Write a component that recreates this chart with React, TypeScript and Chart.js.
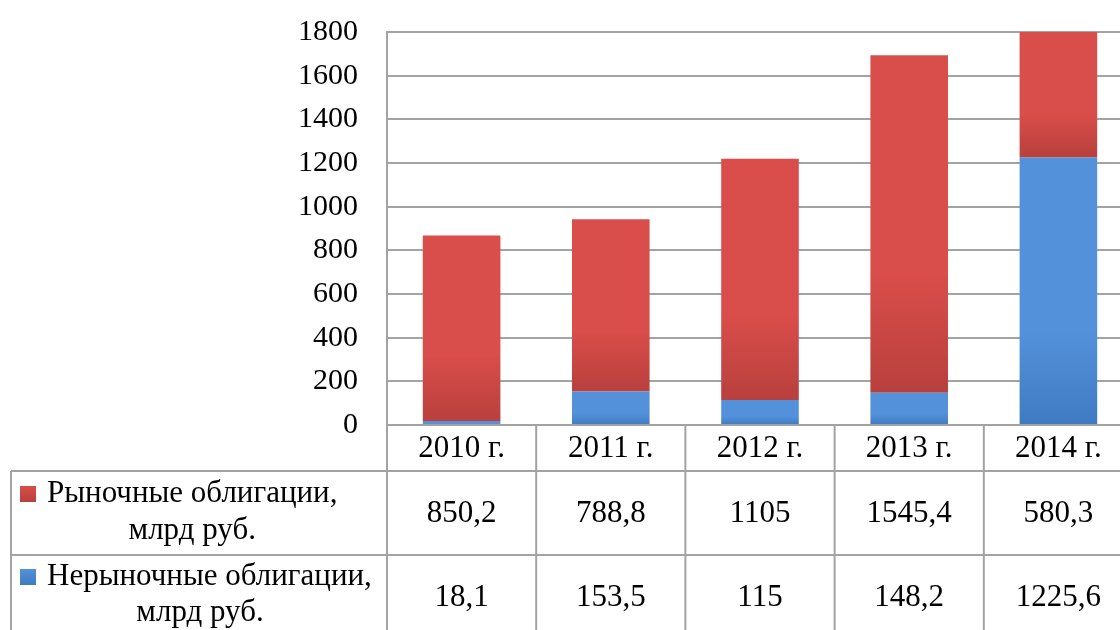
import React, { useEffect, useRef } from 'react';
import { Chart, registerables } from 'chart.js';

Chart.register(...registerables);

const categories = ['2010 г.', '2011 г.', '2012 г.', '2013 г.', '2014 г.'];
const marketBonds = [850.2, 788.8, 1105, 1545.4, 580.3];
const nonMarketBonds = [18.1, 153.5, 115, 148.2, 1225.6];
const marketLabel = ['Рыночные облигации,', 'млрд руб.'];
const nonMarketLabel = ['Нерыночные облигации,', 'млрд руб.'];
const yMin = 0;
const yMax = 1800;
const yStep = 200;

const FONT = "'Liberation Serif'";
const GRID = '#a3a3a3';
const RED_TOP = '#d94d4a';
const RED_BOT = '#b8403d';
const BLUE_TOP = '#5391da';
const BLUE_BOT = '#3f7bc2';

const fmt = (v: number) => String(v).replace('.', ',');

const tablePlugin = {
  id: 'dataTable',
  afterDraw(chart: any) {
    const { ctx, chartArea, scales } = chart;
    const x = scales.x;
    const colW = x.getPixelForValue(1) - x.getPixelForValue(0);
    const headerTop = chartArea.bottom;
    const headerBottom = x.bottom;
    const rowH = 84;
    const tableLeft = 11;
    const rows = [
      { label: marketLabel, values: marketBonds, top: RED_TOP, bot: RED_BOT, l1: 23, l2: 60 },
      { label: nonMarketLabel, values: nonMarketBonds, top: BLUE_TOP, bot: BLUE_BOT, l1: 22, l2: 58 },
    ];
    ctx.save();
    ctx.strokeStyle = GRID;
    ctx.lineWidth = 2;
    const bottomY = headerBottom + rowH * rows.length;
    for (let i = 0; i <= categories.length; i++) {
      const xx = x.getPixelForValue(0) - colW / 2 + i * colW;
      ctx.beginPath();
      ctx.moveTo(xx, headerTop);
      ctx.lineTo(xx, bottomY);
      ctx.stroke();
    }
    ctx.beginPath();
    ctx.moveTo(tableLeft, headerBottom);
    ctx.lineTo(tableLeft, bottomY);
    ctx.stroke();
    for (let r = 0; r <= rows.length; r++) {
      const yy = headerBottom + r * rowH;
      ctx.beginPath();
      ctx.moveTo(tableLeft, yy);
      ctx.lineTo(chartArea.right, yy);
      ctx.stroke();
    }
    ctx.fillStyle = '#000';
    ctx.font = `31px ${FONT}`;
    ctx.textBaseline = 'middle';
    rows.forEach((row, r) => {
      const top = headerBottom + r * rowH;
      const mid = top + rowH / 2;
      ctx.textAlign = 'center';
      ctx.fillStyle = '#000';
      row.values.forEach((v, i) => {
        ctx.fillText(fmt(v), x.getPixelForValue(i), mid + 1);
      });
      const l1y = top + row.l1;
      const l2y = top + row.l2;
      const w1 = ctx.measureText(row.label[0]).width;
      const markerSize = 16;
      const markerX = tableLeft + 9;
      const textX = tableLeft + 36;
      const g = ctx.createLinearGradient(0, l1y - markerSize / 2, 0, l1y + markerSize / 2);
      g.addColorStop(0, row.top);
      g.addColorStop(1, row.bot);
      ctx.fillStyle = g;
      ctx.fillRect(markerX, l1y - markerSize / 2, markerSize, markerSize);
      ctx.fillStyle = '#000';
      ctx.textAlign = 'left';
      ctx.fillText(row.label[0], textX, l1y);
      ctx.textAlign = 'center';
      ctx.fillText(row.label[1], Math.min(textX + w1 / 2, 200), l2y);
    });
    ctx.restore();
  },
};

function gradientFor(ctx: any, datasetIdx: number, topC: string, botC: string) {
  const chart = ctx.chart;
  if (!chart.chartArea || ctx.dataIndex === undefined) return topC;
  const y = chart.scales.y;
  const i = ctx.dataIndex;
  const base = datasetIdx === 0 ? 0 : nonMarketBonds[i];
  const val = datasetIdx === 0 ? nonMarketBonds[i] : marketBonds[i];
  const y0 = y.getPixelForValue(base);
  const y1 = y.getPixelForValue(base + val);
  if (!isFinite(y0) || !isFinite(y1) || y0 === y1) return topC;
  const g = chart.ctx.createLinearGradient(0, y1, 0, y0);
  g.addColorStop(0, topC);
  g.addColorStop(0.65, topC);
  g.addColorStop(1, botC);
  return g;
}

export default function App() {
  const ref = useRef<HTMLCanvasElement | null>(null);
  useEffect(() => {
    if (!ref.current) return;
    let alive = true;
    const chart = new Chart(ref.current, {
      type: 'bar',
      data: {
        labels: categories,
        datasets: [
          {
            label: nonMarketLabel.join(' '),
            data: nonMarketBonds,
            backgroundColor: (c: any) => gradientFor(c, 0, BLUE_TOP, BLUE_BOT),
            borderWidth: 0,
            barPercentage: 0.52,
            categoryPercentage: 1,
          },
          {
            label: marketLabel.join(' '),
            data: marketBonds,
            backgroundColor: (c: any) => gradientFor(c, 1, RED_TOP, RED_BOT),
            borderWidth: 0,
            barPercentage: 0.52,
            categoryPercentage: 1,
          },
        ],
      },
      options: {
        responsive: false,
        animation: false,
        layout: { padding: { top: 32, right: 7, bottom: 630 - 471, left: 0 } },
        plugins: {
          legend: { display: false },
          tooltip: { enabled: false },
          title: { display: false },
        },
        scales: {
          x: {
            stacked: true,
            offset: true,
            grid: { display: false, drawTicks: false },
            border: { display: false },
            ticks: {
              color: '#000',
              font: { family: FONT, size: 31 },
              padding: 5,
              maxRotation: 0,
              autoSkip: false,
            },
            afterFit: (s: any) => {
              s.height = 46;
              s.paddingLeft = 0;
              s.paddingRight = 0;
            },
          },
          y: {
            stacked: true,
            min: yMin,
            max: yMax,
            grid: { color: GRID, lineWidth: 2, drawTicks: false },
            border: { display: true, color: GRID, width: 2 },
            ticks: {
              stepSize: yStep,
              color: '#000',
              font: { family: FONT, size: 30 },
              padding: 29,
              callback: (v: any) => String(v),
            },
            afterFit: (s: any) => {
              s.width = 387;
              s.paddingTop = 0;
              s.paddingBottom = 0;
            },
          },
        },
      },
      plugins: [tablePlugin],
    });
    const fonts: any = (document as any).fonts;
    const redraw = () => {
      if (alive) chart.update('none');
    };
    if (fonts && fonts.load) {
      fonts
        .load("31px 'Liberation Serif'", 'Рыночные 0123456789 г.')
        .then(() => fonts.ready)
        .then(redraw, redraw);
    }
    return () => {
      alive = false;
      chart.destroy();
    };
  }, []);
  return (
    <div
      style={{
        position: 'absolute',
        left: 0,
        top: 0,
        width: 1120,
        height: 630,
        overflow: 'hidden',
        background: '#fff',
      }}
    >
      <canvas
        ref={ref}
        width={1140}
        height={630}
        style={{ width: 1140, height: 630, display: 'block' }}
      />
    </div>
  );
}
